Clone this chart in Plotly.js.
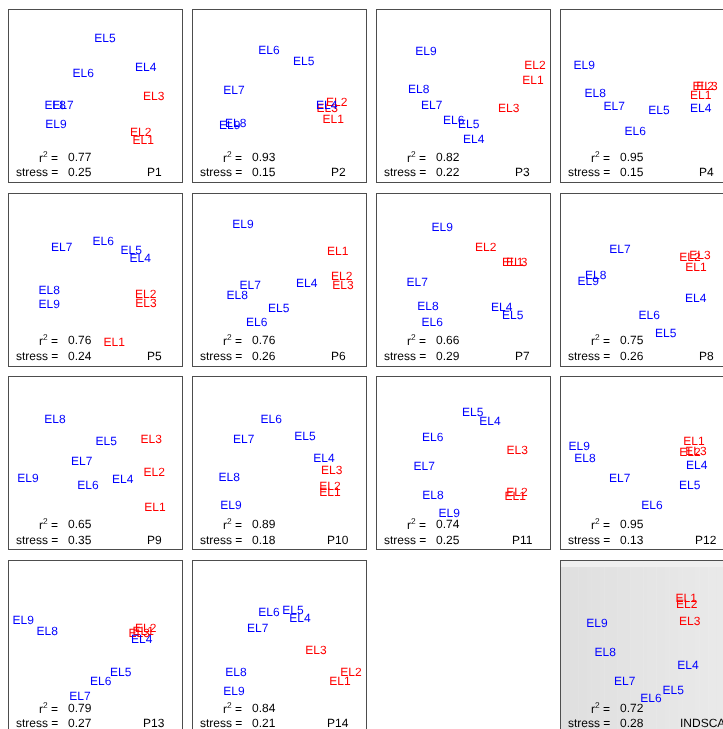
<!DOCTYPE html>
<html>
<head>
<meta charset="utf-8">
<script src="https://cdn.plot.ly/plotly-3.0.1.min.js"></script>
<style>
html,body{margin:0;padding:0;overflow:hidden;background:#fff;}
#chart{width:745px;height:745px;will-change:transform;-webkit-font-smoothing:antialiased;}
#chart text{text-rendering:geometricPrecision;}
</style>
</head>
<body>
<div id="chart"></div>
<script>
// ---- Data (configuration coordinates, arbitrary units) ----
const labels = ['EL1','EL2','EL3','EL4','EL5','EL6','EL7','EL8','EL9'];
const redLabels = ['EL1','EL2','EL3'];
const panelNames = ['P1','P2','P3','P4','P5','P6','P7','P8','P9','P10','P11','P12','P13','P14','INDSCAL'];
const r2Vals = ['0.77','0.93','0.82','0.95','0.76','0.76','0.66','0.75','0.65','0.89','0.74','0.95','0.79','0.84','0.72'];
const stressVals = ['0.25','0.15','0.22','0.15','0.24','0.26','0.29','0.26','0.35','0.18','0.25','0.13','0.27','0.21','0.28'];

const P1x = [134.3,131.7,144.7,136.7,96,74.3,54,46.3,47];
const P1y = [43,51.3,87,116.3,144.7,109.7,77.7,77.7,59];
const P2x = [140.3,143.7,134.3,133.7,110.7,76,41,42.7,36.7];
const P2y = [64.3,81.3,74.7,78.3,121.7,133,93.3,60,58];
const P3x = [156,158,131.7,96.7,91.7,76.7,54.7,41.7,49];
const P3y = [103,118,74.7,44,59,63,78.3,94,132];
const P4x = [139.7,142.3,146,139.7,98,74.3,53.3,34.3,23.3];
const P4y = [88,97,97,75,73,51.7,77.3,90,118];
const P5x = [105.3,136.7,137,131.3,122.3,94.3,52.7,40.3,40.3];
const P5y = [25,72.4,63.4,108.4,116.4,126,119.4,76.7,62.4];
const P6x = [144.7,148.7,150,113.7,85.7,63.7,57.3,44.3,50];
const P6y = [115.7,90.7,81.7,83.4,58.4,45,81.4,71.7,142.4];
const P7x = [135.7,108.7,139.7,124.7,135.7,55.3,40.3,51,65.3];
const P7y = [104.4,119.7,104.4,60,52,44.4,85,60.4,140];
const P8x = [135,129,139,134.7,104.7,88.3,59,34.7,27.3];
const P8y = [99.4,109.7,112,68.7,33.7,52,118,91.4,85.7];
const P9x = [146,145.3,142.3,113.7,97.3,79,72.7,46,19];
const P9y = [43.4,78,111,71,109.7,65.4,89,131,72.7];
const P10x = [137,137,138.7,131,112,78.3,50.7,36.3,38];
const P10y = [58,64.7,80.4,92.7,114.7,131.7,111,73,45.4];
const P11x = [138.3,140,140.3,113,95.7,55.7,47.3,56,72.3];
const P11y = [54,58.7,100.4,129.4,138,113.4,84.7,55.7,37.4];
const P12x = [133,129,135,135.7,128.7,91,58.7,24,18.3];
const P12y = [109,98.7,99.4,85.4,65.7,45,72.4,92,104];
const P13x = [134.3,136.7,130.3,132.7,111.7,91.7,71,38.3,14.3];
const P13y = [103,105.8,100.8,94.8,62.4,53.4,37.8,102.8,114];
const P14x = [147,158,123,107,100,76,64.7,43,41];
const P14y = [52.8,62,84.4,115.8,124,122.4,105.8,62,43.4];
const INDx = [125.3,125.7,128.7,127,112.3,90,63.7,44.3,36];
const INDy = [135.8,130.4,112.8,69.1,44.4,36.1,53.1,81.8,110.8];

const panelX = [P1x,P2x,P3x,P4x,P5x,P6x,P7x,P8x,P9x,P10x,P11x,P12x,P13x,P14x,INDx];
const panelY = [P1y,P2y,P3y,P4y,P5y,P6y,P7y,P8y,P9y,P10y,P11y,P12y,P13y,P14y,INDy];
const slots = [0,1,2,3,4,5,6,7,8,9,10,11,12,13,15];

// ---- Layout geometry ----
const W = 745, H = 745;
const PW = 173, PH = 172;
const YOFF = 2;   // vertical range offset
const FONT = 'Liberation Sans, Arial, Helvetica, sans-serif';

const data = [];
const layout = {
  width: W, height: H,
  margin: {l:0, r:0, t:0, b:0},
  paper_bgcolor: '#ffffff',
  plot_bgcolor: 'rgba(0,0,0,0)',
  showlegend: false,
  annotations: [],
  shapes: [],
  font: {family: FONT, size: 12, color: '#000'}
};

panelNames.forEach((name, i) => {
  const k = i + 1;
  const slot = slots[i];
  const c = slot % 4, r = Math.floor(slot / 4);
  const left = 9 + 184 * c;
  const top = 10 + 183.67 * r;
  const xa = 'xaxis' + (k === 1 ? '' : k);
  const ya = 'yaxis' + (k === 1 ? '' : k);
  const xr = 'x' + (k === 1 ? '' : k);
  const yr = 'y' + (k === 1 ? '' : k);
  const axBase = {
    showgrid: false, zeroline: false, showticklabels: false, ticks: '',
    showline: true, mirror: true, linecolor: '#4d4d4d', linewidth: 1,
    fixedrange: true
  };
  layout[xa] = Object.assign({}, axBase, {
    domain: [left / W, (left + PW) / W], range: [0, PW], anchor: yr
  });
  layout[ya] = Object.assign({}, axBase, {
    domain: [(H - top - PH) / H, (H - top) / H], range: [YOFF, PH + YOFF], anchor: xr
  });

  if (name === 'INDSCAL') {
    const n = 40;
    for (let j = 0; j < n; j++) {
      const v = Math.round(223 + 11 * j / (n - 1));
      layout.shapes.push({type:'rect', xref: xr, yref: yr, layer:'below',
        x0: PW * j / n, x1: PW * (j + 1) / n + 0.5, y0: YOFF, y1: PH + YOFF,
        fillcolor: `rgb(${v},${v},${v})`, line: {width: 0}});
    }
    layout.shapes.push({type:'rect', xref: xr, yref: yr, layer:'below',
      x0: 0, x1: PW, y0: PH + YOFF - 6, y1: PH + YOFF, fillcolor: '#efefef', line: {width: 0}});
  }

  const xs = panelX[i], ys = panelY[i];
  const redIdx = labels.map((l, j) => j).filter(j => redLabels.includes(labels[j]));
  const blueIdx = labels.map((l, j) => j).filter(j => !redLabels.includes(labels[j]));
  [[redIdx, '#ff0000'], [blueIdx, '#0000ff']].forEach(([idx, col]) => {
    data.push({
      type: 'scatter', mode: 'text', xaxis: xr, yaxis: yr,
      x: idx.map(j => xs[j]), y: idx.map(j => ys[j]), text: idx.map(j => labels[j]),
      textposition: 'middle center',
      textfont: {family: FONT, size: 12, color: col},
      hoverinfo: 'skip', cliponaxis: false
    });
  });

  const ann = (text, x, y, xanchor) => layout.annotations.push({
    text, x, y: y + YOFF, xref: xr, yref: yr, xanchor, yanchor: 'middle',
    showarrow: false, borderpad: 0,
    font: {family: FONT, size: 12, color: '#000'}
  });
  ann('r<sup>2</sup> =', 49.5, PH - 146.7, 'right');
  ann(r2Vals[i], 57.5, PH - 146.7, 'left');
  ann('stress =', 49.5, PH - 162.3, 'right');
  ann(stressVals[i], 57.5, PH - 162.3, 'left');
  ann(name, 145.3, PH - 162.3, 'center');
});

Plotly.newPlot('chart', data, layout, {staticPlot: true, displayModeBar: false});
</script>
</body>
</html>
